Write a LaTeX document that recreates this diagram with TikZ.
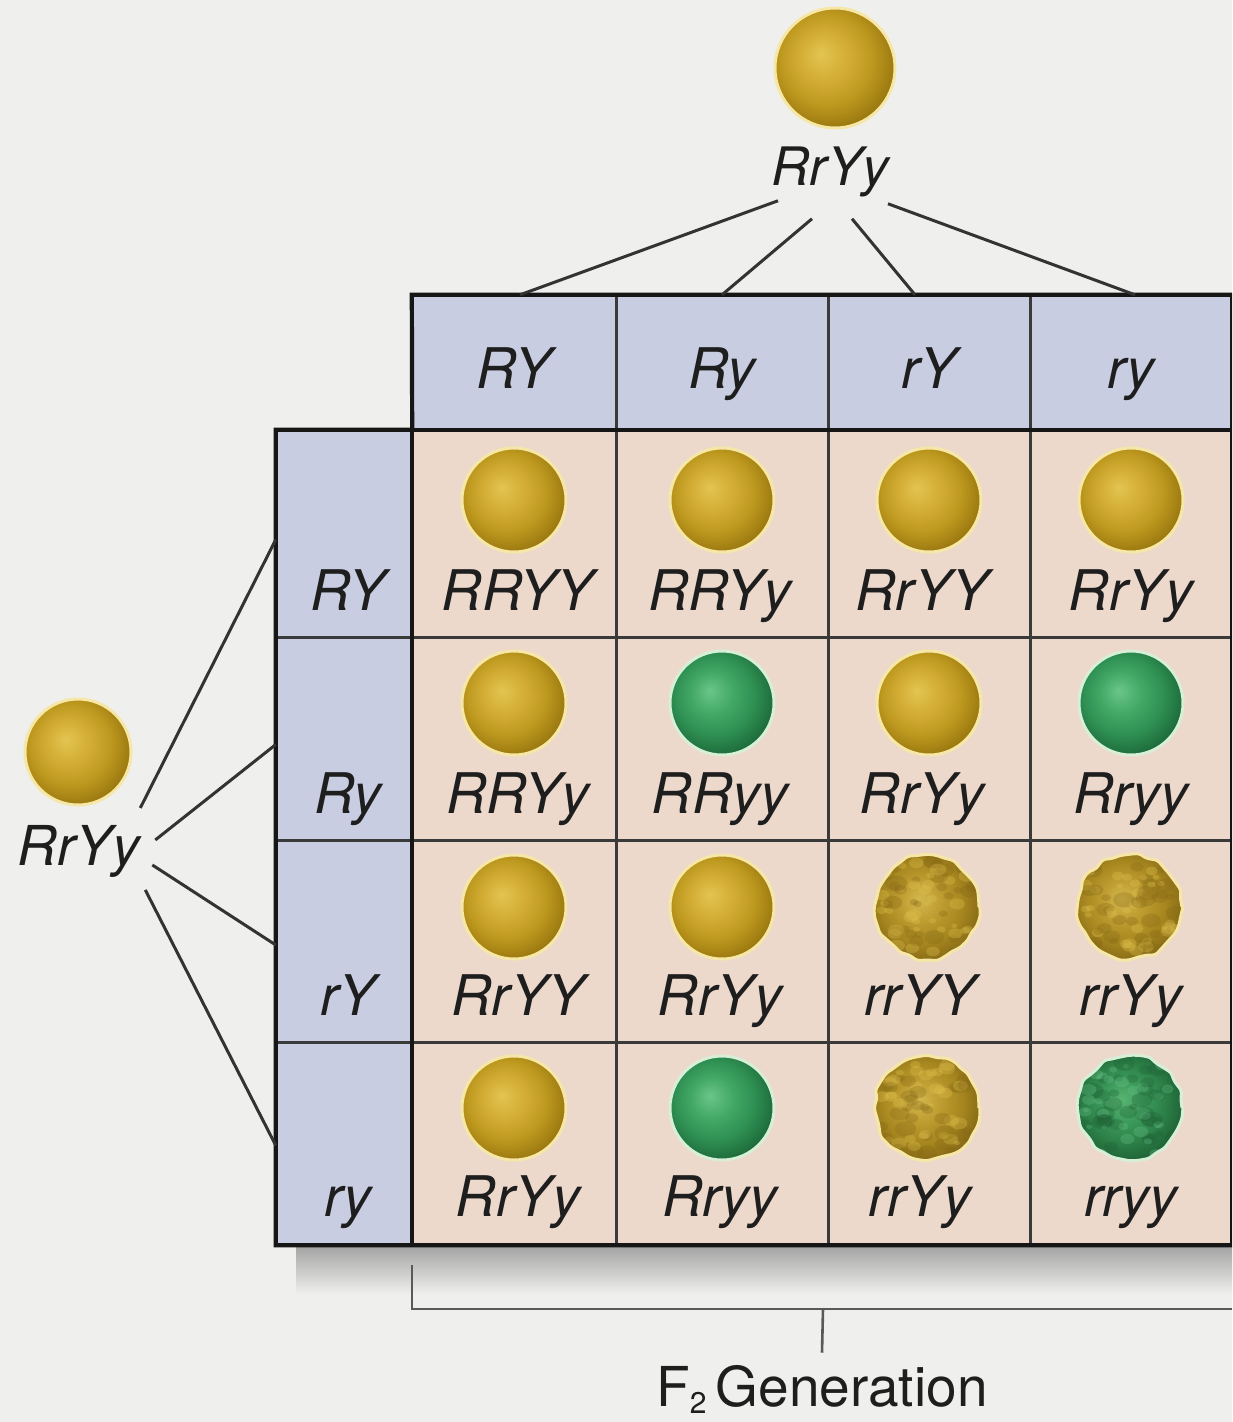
\documentclass[tikz,border=0pt]{standalone}
\usepackage{fontspec}
\setmainfont{TeX Gyre Heros}
\usetikzlibrary{decorations.pathmorphing}

\definecolor{paper}{HTML}{EFEFED}
\definecolor{hdr}{HTML}{C9CDE1}
\definecolor{cellc}{HTML}{ECD9CC}
\definecolor{gridc}{HTML}{3A3A3A}
\definecolor{edgec}{HTML}{161616}
\definecolor{shadowc}{HTML}{A5A5A5}
\definecolor{inkc}{HTML}{1E1E1E}
\definecolor{haloY}{HTML}{F7E7A6}
\definecolor{haloG}{HTML}{D6EFD6}
% smooth yellow
\definecolor{y0}{HTML}{E3C551}
\definecolor{y1}{HTML}{D3AD35}
\definecolor{y2}{HTML}{BE991F}
\definecolor{y3}{HTML}{9A780F}
% smooth green
\definecolor{g0}{HTML}{6AC68A}
\definecolor{g1}{HTML}{43A866}
\definecolor{g2}{HTML}{2F9053}
\definecolor{g3}{HTML}{1D6B3A}
% wrinkled yellow
\definecolor{w0}{HTML}{D3B84E}
\definecolor{w1}{HTML}{BD9C30}
\definecolor{w2}{HTML}{A6871F}
\definecolor{w3}{HTML}{866816}
% wrinkled green
\definecolor{v0}{HTML}{58B472}
\definecolor{v1}{HTML}{3C9A5B}
\definecolor{v2}{HTML}{2C8048}
\definecolor{v3}{HTML}{1E6034}

\pgfdeclareradialshading{peaYellow}{\pgfpoint{-6bp}{6bp}}{color(0bp)=(y0); color(10bp)=(y1); color(19bp)=(y2); color(28bp)=(y3); color(50bp)=(y3)}
\pgfdeclareradialshading{peaGreen}{\pgfpoint{-6bp}{6bp}}{color(0bp)=(g0); color(10bp)=(g1); color(19bp)=(g2); color(28bp)=(g3); color(50bp)=(g3)}
\pgfdeclareradialshading{peaWrinkY}{\pgfpoint{-4bp}{4bp}}{color(0bp)=(w0); color(10bp)=(w1); color(19bp)=(w2); color(28bp)=(w3); color(50bp)=(w3)}
\pgfdeclareradialshading{peaWrinkG}{\pgfpoint{-4bp}{4bp}}{color(0bp)=(v0); color(10bp)=(v1); color(19bp)=(v2); color(28bp)=(v3); color(50bp)=(v3)}

\tikzset{
  hcell/.style={fill=hdr, inner sep=0pt, minimum height=135pt},
  bcell/.style={fill=cellc, inner sep=0pt},
  lab/.style={font=\fontsize{56}{60}\selectfont\itshape, text=inkc, inner sep=0pt, anchor=base},
  peabase/.style={circle, inner sep=0pt, minimum size=104pt, line width=3pt, shade},
  smoothY/.style={peabase, shading=peaYellow, draw=haloY},
  smoothG/.style={peabase, shading=peaGreen, draw=haloG},
  rough/.style={decorate, decoration={random steps, segment length=9pt, amplitude=2pt}, rounded corners=3pt},
  blotches/.style 2 args={path picture={
    \foreach \k in {1,...,34}{
      \pgfmathsetmacro{\ax}{46*rand}
      \pgfmathsetmacro{\ay}{46*rand}
      \pgfmathsetmacro{\ar}{3+5*rnd}
      \fill[#1, opacity=.30] ([xshift=\ax pt, yshift=\ay pt]path picture bounding box.center) ellipse[x radius=1.4*\ar pt, y radius=\ar pt];
      \pgfmathsetmacro{\bx}{46*rand}
      \pgfmathsetmacro{\by}{46*rand}
      \pgfmathsetmacro{\br}{2+4*rnd}
      \fill[#2, opacity=.30] ([xshift=\bx pt, yshift=\by pt]path picture bounding box.center) ellipse[x radius=1.4*\br pt, y radius=\br pt];
    }}},
  wrinkY/.style={peabase, shading=peaWrinkY, draw=haloY, rough, blotches={w3}{y0}},
  wrinkG/.style={peabase, shading=peaWrinkG, draw=haloG, rough, blotches={v3}{g0}},
  conn/.style={line width=3pt, draw=black!80},
  thingrid/.style={line width=2.6pt, draw=gridc},
  outer/.style={line width=4.2pt, draw=edgec, line join=miter},
  brk/.style={line width=2.6pt, draw=black!65},
}

\begin{document}
\begin{tikzpicture}[x=1pt, y=-1pt]
\pgfmathsetseed{7}
\useasboundingbox (0,0) rectangle (1232,1422);
\clip (0,0) rectangle (1232,1422);
\fill[paper] (0,0) rectangle (1232,1422);

% drop shadow under the square
\shade[top color=shadowc, bottom color=paper] (296,1247) rectangle (1232,1294);

% column header cells (gametes of the top parent)
\node[hcell, minimum width=204pt] (hRY) at (514,362.5) {};
\node[hcell, minimum width=212pt] (hRy) at (722,362.5) {};
\node[hcell, minimum width=202pt] (hrY) at (929,362.5) {};
\node[hcell, minimum width=202pt] (hry) at (1131,362.5) {};

% row header cells (gametes of the left parent)
\node[hcell, minimum width=136pt, minimum height=207pt] (rRY) at (344,533.5) {};
\node[hcell, minimum width=136pt, minimum height=203pt] (rRy) at (344,738.5) {};
\node[hcell, minimum width=136pt, minimum height=202pt] (rrY) at (344,941) {};
\node[hcell, minimum width=136pt, minimum height=203pt] (rry) at (344,1143.5) {};

% body cells
\foreach \r/\y/\h in {1/533.5/207, 2/738.5/203, 3/941/202, 4/1143.5/203}
  \foreach \c/\x/\w in {1/514/204, 2/722/212, 3/929/202, 4/1131/202}
    \node[bcell, minimum width=\w pt, minimum height=\h pt] (b\r\c) at (\x,\y) {};

% inner grid lines
\draw[thingrid] (hRY.north east) -- (b41.south east);
\draw[thingrid] (hRy.north east) -- (b42.south east);
\draw[thingrid] (hrY.north east) -- (b43.south east);
\draw[thingrid] (rRY.south west) -- (b14.south east);
\draw[thingrid] (rRy.south west) -- (b24.south east);
\draw[thingrid] (rrY.south west) -- (b34.south east);

% heavy outline of the square
\draw[outer] (rRY.north east) -- (rRY.north west) -- (rry.south west) -- (b44.south east)
  -- (hry.north east) -- (hRY.north west) -- cycle;
\draw[outer] (hRY.south west) -- (hry.south east);
\draw[outer] (rRY.north east) -- (rry.south east);

% header labels
\node[lab] (tRY) at (514,388) {RY};
\node[lab] (tRy) at (722,388) {Ry};
\node[lab] (trY) at (929,388) {rY};
\node[lab] (try) at (1131,388) {ry};
\node[lab] (sRY) at (348,610) {RY};
\node[lab] (sRy) at (348,813) {Ry};
\node[lab] (srY) at (348,1015) {rY};
\node[lab] (sry) at (348,1216) {ry};

% parents
\node[smoothY, minimum size=120pt] (ptop) at (835,68) {};
\node[lab, font=\fontsize{53}{58}\selectfont\itshape] (ltop) at (830,185) {RrYy};
\node[smoothY, minimum size=106pt] (pleft) at (78,752) {};
\node[lab, font=\fontsize{55}{58}\selectfont\itshape] (lleft) at (79,865) {RrYy};

% gamete connectors
\draw[conn] ([shift={(-52,4)}]ltop.south) -- ([xshift=6pt]hRY.north);
\draw[conn] ([shift={(-18,22)}]ltop.south) -- (hRy.north);
\draw[conn] ([shift={(22,22)}]ltop.south) -- ([xshift=-14pt]hrY.north);
\draw[conn] ([shift={(58,7)}]ltop.south) -- ([xshift=4pt]hry.north);
\draw[conn] ([shift={(0,-43)}]lleft.east) -- ([yshift=-6pt]rRY.west);
\draw[conn] ([shift={(15,-11)}]lleft.east) -- ([yshift=-6pt]rRy.west);
\draw[conn] ([shift={(12,14)}]lleft.east) -- ([yshift=-4pt]rrY.west);
\draw[conn] ([shift={(5,39)}]lleft.east) -- ([yshift=-2pt]rry.west);

% offspring: row RY
\node[smoothY] (p11) at (514,500) {};  \node[lab] (g11) at (518,610) {RRYY};
\node[smoothY] (p12) at (722,500) {};  \node[lab] (g12) at (720,610) {RRYy};
\node[smoothY] (p13) at (929,500) {};  \node[lab] (g13) at (922,610) {RrYY};
\node[smoothY] (p14) at (1131,500) {}; \node[lab] (g14) at (1131,610) {RrYy};
% row Ry
\node[smoothY] (p21) at (514,703) {};  \node[lab] (g21) at (518,813) {RRYy};
\node[smoothG] (p22) at (722,703) {};  \node[lab] (g22) at (720,813) {RRyy};
\node[smoothY] (p23) at (929,703) {};  \node[lab] (g23) at (922,813) {RrYy};
\node[smoothG] (p24) at (1131,703) {}; \node[lab] (g24) at (1131,813) {Rryy};
% row rY
\node[smoothY] (p31) at (514,907) {};  \node[lab] (g31) at (518,1015) {RrYY};
\node[smoothY] (p32) at (722,907) {};  \node[lab] (g32) at (720,1015) {RrYy};
\node[wrinkY] (p33) at (927,907) {};   \node[lab] (g33) at (920,1015) {rrYY};
\node[wrinkY] (p34) at (1130,907) {};  \node[lab] (g34) at (1131,1015) {rrYy};
% row ry
\node[smoothY] (p41) at (514,1108) {}; \node[lab] (g41) at (518,1216) {RrYy};
\node[smoothG] (p42) at (722,1108) {}; \node[lab] (g42) at (720,1216) {Rryy};
\node[wrinkY] (p43) at (927,1108) {};  \node[lab] (g43) at (920,1216) {rrYy};
\node[wrinkG] (p44) at (1130,1108) {}; \node[lab] (g44) at (1131,1216) {rryy};

% bracket and caption
\node[inner sep=0pt, anchor=base, text=inkc, font=\fontsize{55}{60}\selectfont] (gen) at (822,1406)
  {F\raisebox{-0.14em}{\fontsize{30}{30}\selectfont 2}\,Generation};
\coordinate (brA) at (412,1265);
\coordinate (brB) at (1232,1309);
\coordinate (brC) at (823,1309);
\draw[brk] (brA) |- (brB);
\draw[brk] (brC) -- ([yshift=12pt]gen.north);
\end{tikzpicture}
\end{document}
